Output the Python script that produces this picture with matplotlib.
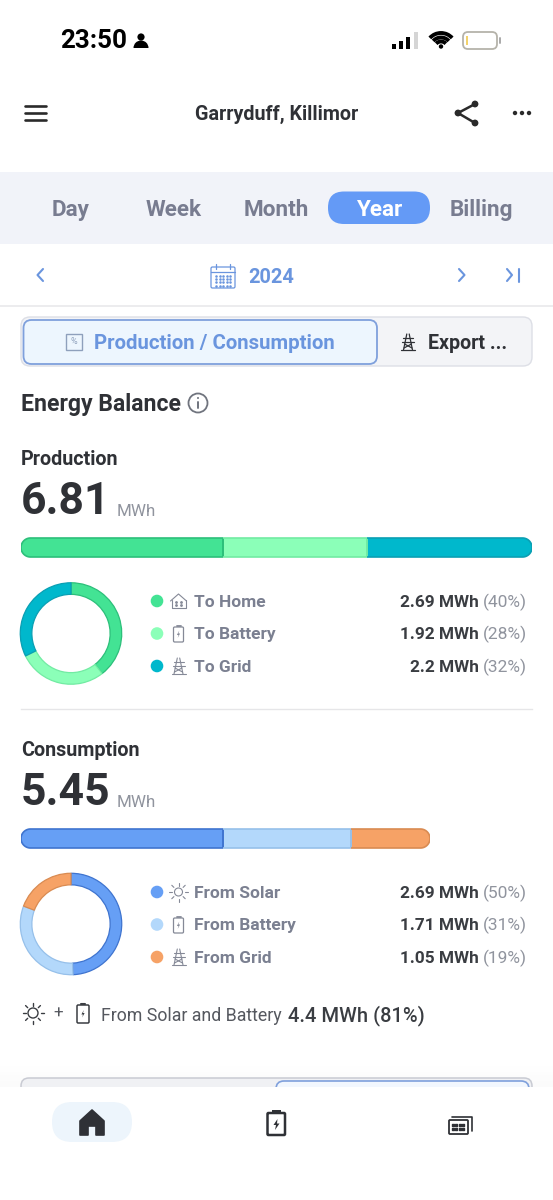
import matplotlib
matplotlib.use("Agg")
import numpy as np
import matplotlib.pyplot as plt
from matplotlib.patches import FancyBboxPatch, Circle, Rectangle, Polygon, Wedge, Arc
from matplotlib.transforms import Bbox, TransformedBbox

# ---- data ----
tabs = ["Day", "Week", "Month", "Year", "Billing"]
year_label = "2024"
location = "Garryduff, Killimor"
prod_total = 6.81
prod_labels = ["To Home", "To Battery", "To Grid"]
prod_values = [2.69, 1.92, 2.2]
prod_pcts = [40, 28, 32]
cons_total = 5.45
cons_labels = ["From Solar", "From Battery", "From Grid"]
cons_values = [2.69, 1.71, 1.05]
cons_pcts = [50, 31, 19]
prod_colors = ["#43E394", "#8BFFB8", "#00B8CC"]
prod_edges = ["#2CBF7A", "#72EBA3", "#0A9FB3"]
cons_colors = ["#669FF5", "#B3D8FB", "#F6A266"]
cons_edges = ["#3F74CF", "#96C0EA", "#D98B52"]

W, H = 553, 1200
plt.rcParams["font.family"] = ["Roboto", "DejaVu Sans"]
fig = plt.figure(figsize=(W / 100, H / 100), dpi=100, facecolor="white")
page = fig.add_axes([0, 0, 1, 1], zorder=1)
page.set_xlim(0, W)
page.set_ylim(H, 0)
page.axis("off")

DARK = "#2F3136"
GREY = "#7B8091"
LGREY = "#90949E"
BLUE = "#6A95DE"
ICON = "#858997"


def T(x, y, s, px, color=DARK, weight="normal", ha="left", va="center"):
    return page.text(x, y + 1.3, s, fontsize=px * 0.72, color=color, fontweight=weight, ha=ha, va=va)


def L(xs, ys, color=DARK, lw=1.0, **kw):
    page.plot(xs, ys, color=color, lw=lw, solid_capstyle="round", **kw)


def rbox(x0, y0, x1, y1, r, fc="none", ec="none", lw=1.0, z=2):
    p = FancyBboxPatch((x0 + r, y0 + r), x1 - x0 - 2 * r, y1 - y0 - 2 * r,
                       boxstyle=f"round,pad={r},rounding_size={r}", fc=fc, ec=ec, lw=lw, zorder=z)
    page.add_patch(p)
    return p


def pill(x0, x1, y0, y1):
    r = (y1 - y0) / 2
    cy = (y0 + y1) / 2
    a = np.radians(np.linspace(90, 270, 40))
    left = np.c_[x0 + r + r * np.cos(a), cy + r * np.sin(a)]
    right = np.c_[x1 - r - r * np.cos(a), cy - r * np.sin(a)]
    return np.vstack([left, right])


def tower(cx, cy, s=1.0, color=ICON, lw=0.8):
    L([cx - 7 * s, cx + 7 * s], [cy + 8 * s, cy + 8 * s], color, lw)
    L([cx - 1.2 * s, cx - 4.5 * s], [cy - 8 * s, cy + 8 * s], color, lw)
    L([cx + 1.2 * s, cx + 4.5 * s], [cy - 8 * s, cy + 8 * s], color, lw)
    L([cx - 5 * s, cx + 5 * s], [cy - 4.5 * s, cy - 4.5 * s], color, lw)
    L([cx - 6 * s, cx + 6 * s], [cy - 0.5 * s, cy - 0.5 * s], color, lw)
    L([cx - 3.5 * s, cx + 4 * s], [cy + 2 * s, cy + 6 * s], color, lw)
    L([cx + 3.5 * s, cx - 4 * s], [cy + 2 * s, cy + 6 * s], color, lw)


def battery(cx, cy, w=10, h=17, color=ICON, lw=0.9):
    rbox(cx - w / 2, cy - h / 2 + 2, cx + w / 2, cy + h / 2, 1.2, ec=color, lw=lw)
    L([cx - 2, cx + 2], [cy - h / 2 + 0.8, cy - h / 2 + 0.8], color, lw + 0.4)
    page.add_patch(Polygon([[cx + 0.8, cy - 3], [cx - 1.6, cy + 1.5], [cx, cy + 1.5], [cx - 0.8, cy + 4.5],
                            [cx + 1.6, cy], [cx, cy]], fc=color, ec="none", zorder=3))


def sun(cx, cy, r=5, color=ICON, lw=0.8):
    page.add_patch(Circle((cx, cy), r, fc="none", ec=color, lw=lw, zorder=3))
    for a in np.arange(0, 360, 45):
        c, sn = np.cos(np.radians(a)), np.sin(np.radians(a))
        L([cx + c * (r + 2.5), cx + c * (r + 5.5)], [cy + sn * (r + 2.5), cy + sn * (r + 5.5)], color, lw)


def house(cx, cy, color=ICON, lw=0.8):
    L([cx - 8, cx, cx + 8], [cy, cy - 7, cy], color, lw)
    L([cx - 7, cx - 7, cx + 7, cx + 7], [cy - 1, cy + 7, cy + 7, cy - 1], color, lw)
    page.scatter([cx - 2.5, cx + 2.5, cx - 2.5, cx + 2.5], [cy + 1, cy + 1, cy + 4, cy + 4], s=1, color=color, zorder=3)


# ---- status bar ----
T(60, 40, "23:50", 26, "#000000", "bold")
page.add_patch(Circle((141, 37), 3.6, fc="black", ec="none"))
page.add_patch(Wedge((141, 48), 7.5, 180, 360, fc="black", ec="none"))
for x, top, col in zip([394, 401, 408, 416], [44, 41, 37, 32], ["k", "k", "k", "#D5D5D5"]):
    page.add_patch(Rectangle((x - 2, top), 4.2, 49 - top, fc=col, ec="none"))
for r in (13, 8.5, 4.5):
    page.add_patch(Arc((441, 48), 2 * r + 4, 2 * r + 4, theta1=222, theta2=318, lw=2.8, color="black"))
page.add_patch(Circle((441, 46.5), 2.2, fc="black", ec="none"))
rbox(463, 32, 497, 49, 5, ec="#B5B3AA", lw=1.3)
page.add_patch(Rectangle((465.5, 36), 2, 9, fc="#F3D26B", ec="none", zorder=3))
L([500, 500], [38, 43], "#A9A9A9", 1.4)

# ---- header ----
for y in (106, 113, 120):
    L([24.5, 46], [y, y], "#2A2A2A", 1.9)
T(276.5, 113, location, 19.8, DARK, "bold", ha="center")
L([475, 458, 475], [104, 113, 123], "#2A2A2A", 1.8)
for px_, py_ in [(475, 104), (458, 113), (475, 123)]:
    page.add_patch(Circle((px_, py_), 3.4, fc="#2A2A2A", ec="none", zorder=3))
for x in (515, 522, 529):
    page.add_patch(Circle((x, 113), 2.2, fc="#2A2A2A", ec="none"))

# ---- period tabs ----
page.add_patch(Rectangle((0, 172), W, 72, fc="#F1F3F9", ec="none", zorder=0))
rbox(328, 191.5, 430, 224, 16, fc="#649AF6")
for name, x in zip(tabs, [71, 174, 276, 379, 481]):
    sel = name == "Year"
    T(x, 208.5, name, 22.5, "white" if sel else "#787C90", "bold", ha="center")

# ---- year row ----
L([43, 37.5, 43], [269, 275, 281], BLUE, 1.5)
L([459, 464.5, 459], [269, 275, 281], BLUE, 1.5)
L([507, 512, 507], [269, 275, 281], BLUE, 1.5)
L([518.5, 518.5], [268.5, 281.5], BLUE, 1.5)
rbox(211, 267, 235, 288, 1.5, ec=BLUE, lw=0.9)
L([211, 235], [272, 272], BLUE, 0.9)
L([216, 216], [264, 269], BLUE, 0.9)
L([230, 230], [264, 269], BLUE, 0.9)
gx, gy = np.meshgrid(np.arange(216, 232, 3.6), np.arange(276, 286, 3.2))
page.scatter(gx.ravel(), gy.ravel(), s=0.7, color=BLUE, zorder=3)
T(248, 276, year_label, 20, BLUE, "bold")
page.plot([0, W], [306, 306], color="#E9E9EB", lw=1.2)

# ---- segmented control ----
rbox(21, 317, 532, 366, 9, fc="#F3F4F7", ec="#DDDFE6", lw=1.0)
rbox(23.5, 320, 377, 364, 8, fc="#EDF6FE", ec="#7FA0DC", lw=1.3, z=3)
page.add_patch(Rectangle((66, 334), 16, 16, fc="none", ec="#8EA0BC", lw=1.0, zorder=4))
page.text(74, 342, "%", fontsize=6.5, color="#8EA0BC", ha="center", va="center", zorder=4)
t = T(94, 342, "Production / Consumption", 20.4, BLUE, "bold")
t.set_zorder(5)
tower(408, 342, 1.0, DARK, 0.9)
T(428, 342.5, "Export ...", 19.7, DARK, "bold")

# ---- energy balance ----
T(21, 403, "Energy Balance", 23, DARK, "bold")
page.add_patch(Circle((198, 403), 9.5, fc="none", ec="#70747E", lw=1.3))
L([198, 198], [402, 408], "#70747E", 1.4)
page.add_patch(Circle((198, 398), 1.0, fc="#70747E", ec="none"))


def balance(title, total, labels, values, pcts, colors, edges, y_title, y_num, y_bar, cy_donut, y_rows, icons):
    T(21, y_title, title, 19.8, DARK, "bold")
    T(21, y_num, f"{total:.2f}", 44.5, DARK, "bold")
    T(117, y_num + 9.5, "MWh", 17, LGREY)

    # stacked bar on a shared MWh scale: full track width is the production total
    x0, x1, y0, y1 = 21, 532, y_bar, y_bar + 19
    ax = fig.add_axes([x0 / W, 1 - y1 / H, (x1 - x0) / W, (y1 - y0) / H], zorder=3)
    ax.set_xlim(0, prod_total)
    ax.set_ylim(0, 1)
    ax.axis("off")
    ax.patch.set_alpha(0)
    end = x0 + (x1 - x0) * sum(values) / prod_total
    outline_xy = pill(x0, end, y0, y1)
    clip = Polygon(outline_xy, closed=True, transform=page.transData, fc="none", ec="none")
    page.add_patch(clip)
    left = 0
    for i, (v, c, e) in enumerate(zip(values, colors, edges)):
        bars = ax.barh(0.5, v, left=left, height=1, color=c, edgecolor="none", zorder=2)
        bars[0].set_clip_path(clip)
        edge = Polygon(outline_xy, closed=True, transform=page.transData, fc="none", ec=e, lw=1.2, zorder=5)
        ax.add_patch(edge)
        edge.set_clip_path(None)
        edge.set_clip_box(TransformedBbox(Bbox([[left, -1], [left + v, 2]]), ax.transData))
        if i < len(values) - 1:
            ax.axvline(left + v, color=e, lw=1.4, zorder=3)
        left += v

    # donut
    R = 51.5
    dax = fig.add_axes([(71 - R) / W, 1 - (cy_donut + R) / H, 2 * R / W, 2 * R / H], zorder=3)
    wedges, _ = dax.pie(values, colors=colors, startangle=90, counterclock=False, radius=0.985,
                        wedgeprops=dict(width=0.225, edgecolor="none"))
    for w_, e in zip(wedges, edges):
        w_.set_edgecolor(e)
        w_.set_linewidth(0.9)
    dax.set_xlim(-1, 1)
    dax.set_ylim(-1, 1)

    # legend rows
    for lab, v, p, c, y, ic in zip(labels, values, pcts, colors, y_rows, icons):
        page.add_patch(Circle((157, y), 6.3, fc=c, ec="none"))
        ic(178.5, y)
        T(194, y, lab, 17.4, GREY, "bold")
        T(479, y, f"{v:g} MWh", 17.2, "#3A3D42", "bold", ha="right")
        T(526.5, y, f"({p}%)", 17.4, LGREY, ha="right")


balance("Production", prod_total, prod_labels, prod_values, prod_pcts, prod_colors, prod_edges,
        458, 501, 538, 633.5, [601, 633.5, 666],
        [lambda x, y: house(x, y), lambda x, y: battery(x, y), lambda x, y: tower(x, y)])
page.plot([21, 532], [709, 709], color="#E6E6E8", lw=1.0)
balance("Consumption", cons_total, cons_labels, cons_values, cons_pcts, cons_colors, cons_edges,
        749, 792, 829, 924, [892, 924.5, 957],
        [lambda x, y: sun(x, y, 4), lambda x, y: battery(x, y), lambda x, y: tower(x, y)])

# ---- summary line ----
sun(33, 1013, 5, "#3A3D42", 1.0)
T(58, 1012, "+", 17, "#55585F", ha="center")
battery(83, 1013, 12, 20, "#3A3D42", 1.1)
T(101, 1015, "From Solar and Battery", 17.8, "#55585F")
T(288, 1014, "4.4 MWh (81%)", 20.2, "#3A3D42", "medium")

# ---- bottom nav ----
for i, a in enumerate(np.linspace(0, 0.035, 8)):
    page.add_patch(Rectangle((0, 1063 + i * 3), W, 3, fc="black", alpha=a / 2, ec="none", zorder=0))
rbox(21, 1078, 532, 1100, 8, fc="#F0F1F4", ec="#C9CBD3", lw=1.1, z=1)
rbox(276, 1081, 529, 1100, 8, fc="#F2F7FE", ec="#7FA0DC", lw=1.2, z=1)
page.add_patch(Rectangle((0, 1087), W, 113, fc="white", ec="none", zorder=2))
rbox(52, 1102, 132, 1142, 20, fc="#EDF5FC", z=3)
page.add_patch(Polygon([[92, 1110], [104, 1121], [104, 1135], [96, 1135], [96, 1126], [88, 1126], [88, 1135],
                        [80, 1135], [80, 1121]], fc="#2F3136", ec="#2F3136", lw=1.2, joinstyle="round", zorder=4))
rbox(267.5, 1113, 285, 1135, 1, fc="white", ec="#2F3136", lw=1.8, z=4)
page.add_patch(Rectangle((272, 1110), 9, 3, fc="#2F3136", ec="none", zorder=4))
page.add_patch(Polygon([[277.5, 1119], [273.5, 1125], [276, 1125], [275, 1130], [279.5, 1123.5], [277, 1123.5]],
                       fc="#2F3136", ec="none", zorder=5))
rbox(449, 1120, 468, 1134, 1, fc="white", ec="#2F3136", lw=1.3, z=5)
L([452, 472, 472], [1116.5, 1116.5, 1131], "#2F3136", 1.2, zorder=4)
gx, gy = np.meshgrid(np.arange(452.5, 466, 3.6), [1124.5, 1129])
page.scatter(gx.ravel(), gy.ravel(), s=0.9, color="#2F3136", zorder=6, marker="s")

fig.savefig("out.png", dpi=100, facecolor="white")
